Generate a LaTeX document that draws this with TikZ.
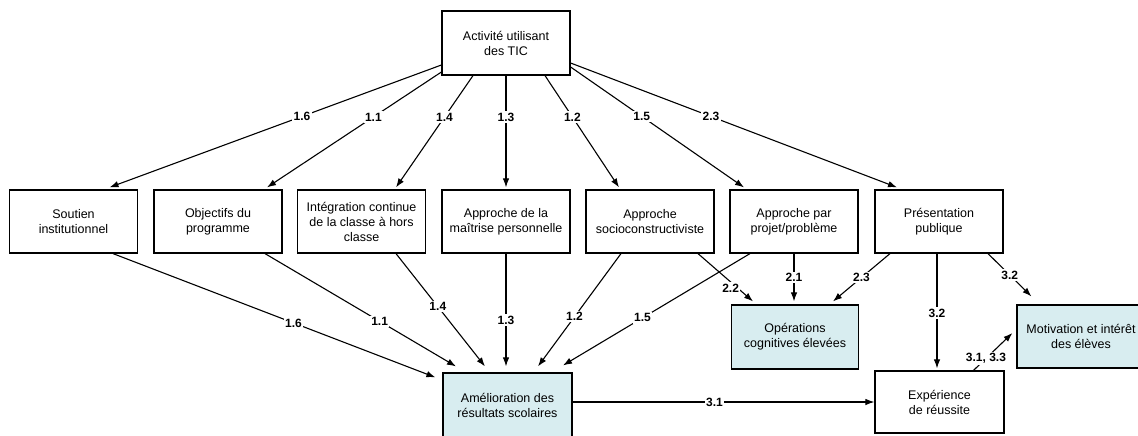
\documentclass[tikz,border=0pt]{standalone}
\usepackage{fontspec}
\setmainfont{Liberation Sans}
\usetikzlibrary{arrows.meta}
\definecolor{outfill}{RGB}{216,237,240}
\begin{document}
\begin{tikzpicture}[x=1pt,y=-1pt,
  box/.style={draw=black,line width=1.2pt,fill=white,minimum width=128pt,
    minimum height=63pt,align=center,inner sep=0pt,
    font=\fontsize{12.5}{15}\selectfont},
  outcome/.style={box,fill=outfill},
  link/.style={line width=1.1pt,-{Latex[length=9pt,width=6.5pt]}},
  lab/.style={fill=white,inner sep=1.5pt,font=\fontsize{12}{14}\selectfont\bfseries}]
\useasboundingbox (0,0) rectangle (1138,436);
\clip (0,0) rectangle (1138,436);

% source activity
\node[box,minimum height=64pt] (src) at (506,43) {Activité utilisant\\des TIC};

% middle row of conditions
\node[box] (b1) at (73.5,221.5) {Soutien\\institutionnel};
\node[box] (b2) at (218,221.5) {Objectifs du\\programme};
\node[box] (b3) at (361.5,221.5) {Intégration continue\\de la classe à hors\\classe};
\node[box] (b4) at (506,221.5) {Approche de la\\maîtrise personnelle};
\node[box] (b5) at (650,221.5) {Approche\\socioconstructiviste};
\node[box] (b6) at (794,221.5) {Approche par\\projet/problème};
\node[box] (b7) at (939,221.5) {Présentation\\publique};

% outcomes
\node[outcome,minimum width=129pt,minimum height=64pt] (amel) at (507.5,405) {Amélioration des\\résultats scolaires};
\node[outcome,minimum width=127pt,minimum height=64pt] (oper) at (795,337) {Opérations\\cognitives élevées};
\node[outcome,minimum height=63pt] (motiv) at (1081,336.5) {Motivation et intérêt\\des élèves};
\node[box,minimum width=129pt,minimum height=62pt] (exper) at (939.5,402) {Expérience\\de réussite};

% from the activity to each condition
\draw[link] ([yshift=-22pt]src.west) -- node[lab,pos=0.42]{1.6} ([xshift=36pt,yshift=2pt]b1.north);
\draw[link] ([yshift=-29pt]src.west) -- node[lab,pos=0.39]{1.1} ([xshift=49pt,yshift=2pt]b2.north);
\draw[link] ([xshift=-33pt]src.south) -- node[lab,pos=0.37]{1.4} ([xshift=34.5pt,yshift=2pt]b3.north);
\draw[link] (src.south) -- node[lab,pos=0.37]{1.3} ([yshift=2pt]b4.north);
\draw[link] ([xshift=39pt]src.south) -- node[lab,pos=0.37]{1.2} ([xshift=-31pt,yshift=2pt]b5.north);
\draw[link] ([yshift=-24pt]src.east) -- node[lab,pos=0.41]{1.5} ([xshift=-50pt,yshift=2pt]b6.north);
\draw[link] ([yshift=-20pt]src.east) -- node[lab,pos=0.43]{2.3} ([xshift=-42pt,yshift=2pt]b7.north);

% from the conditions to school results
\draw[link] ([xshift=39.5pt]b1.south) -- node[lab,pos=0.56]{1.6} ([xshift=-7pt,yshift=-5pt]amel.north west);
\draw[link] ([xshift=47pt]b2.south) -- node[lab,pos=0.6]{1.1} ([xshift=-51.5pt,yshift=6pt]amel.north);
\draw[link] ([xshift=34.5pt]b3.south) -- node[lab,pos=0.47]{1.4} ([xshift=-22.5pt,yshift=6pt]amel.north);
\draw[link,shorten >=6pt] (b4.south) -- node[lab,pos=0.56]{1.3} (b4.south |- amel.north);
\draw[link] ([xshift=-29pt]b5.south) -- node[lab,pos=0.56]{1.2} ([xshift=30.5pt,yshift=6pt]amel.north);
\draw[link] ([xshift=-44pt]b6.south) -- node[lab,pos=0.575]{1.5} ([xshift=55.5pt,yshift=7pt]amel.north);

% towards higher cognitive operations
\draw[link] ([xshift=48pt]b5.south) -- node[lab,pos=0.72,xshift=-7pt]{2.2} ([xshift=-42pt,yshift=3pt]oper.north);
\draw[link] (b6.south) -- node[lab,pos=0.5]{2.1} ([yshift=3pt]b6.south |- oper.north);
\draw[link] ([xshift=-49pt]b7.south) -- node[lab,pos=0.5]{2.3} ([xshift=38pt,yshift=3pt]oper.north);

% public presentation, success and motivation
\draw[link] ([xshift=49pt]b7.south) -- node[lab,pos=0.5]{3.2} ([xshift=15pt,yshift=8pt]motiv.north west);
\draw[link,shorten >=2pt] ([xshift=-2pt]b7.south) -- node[lab,pos=0.51]{3.2} ([xshift=-2pt]b7.south |- exper.north);
\draw[link] ([xshift=34pt]exper.north) -- node[lab,pos=0.32]{3.1, 3.3} ([xshift=-4pt,yshift=3.5pt]motiv.west);
\draw[link] (amel.east |- exper.west) -- node[lab,pos=0.47]{3.1} (exper.west);
\end{tikzpicture}
\end{document}
